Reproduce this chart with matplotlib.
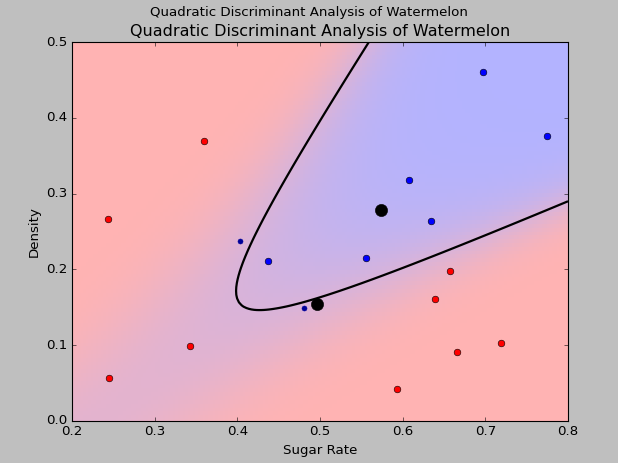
import numpy as np
import matplotlib
matplotlib.use('Agg')
import matplotlib.pyplot as plt
from matplotlib import colors

plt.style.use('classic')

# watermelon 3.0 alpha (first column plotted on x)
sugar = [0.697, 0.774, 0.634, 0.608, 0.556, 0.403, 0.481, 0.437,
         0.666, 0.243, 0.245, 0.343, 0.639, 0.657, 0.360, 0.593, 0.719]
density = [0.460, 0.376, 0.264, 0.318, 0.215, 0.237, 0.149, 0.211,
           0.091, 0.267, 0.057, 0.099, 0.161, 0.198, 0.370, 0.042, 0.103]
label = [1, 1, 1, 1, 1, 1, 1, 1, 0, 0, 0, 0, 0, 0, 0, 0, 0]

X = np.column_stack([sugar, density])
y = np.array(label)


def qda_fit(X, y):
    params = []
    for k in (0, 1):
        Xk = X[y == k]
        mu = Xk.mean(axis=0)
        cov = np.cov(Xk.T, ddof=1)
        prior = len(Xk) / float(len(X))
        params.append((mu, cov, prior))
    return params


def qda_proba(params, P):
    logs = []
    for mu, cov, prior in params:
        d = P - mu
        inv = np.linalg.inv(cov)
        m = np.einsum('ij,jk,ik->i', d, inv, d)
        logs.append(-0.5 * (m + np.log(np.linalg.det(cov))) + np.log(prior))
    logs = np.array(logs).T
    logs -= logs.max(axis=1, keepdims=True)
    p = np.exp(logs)
    return p / p.sum(axis=1, keepdims=True)


params = qda_fit(X, y)
pred = qda_proba(params, X).argmax(axis=1)

cmap = colors.LinearSegmentedColormap(
    'red_blue_classes',
    {'red': [(0, 1, 1), (1, 0.7, 0.7)],
     'green': [(0, 0.7, 0.7), (1, 0.7, 0.7)],
     'blue': [(0, 0.7, 0.7), (1, 1, 1)]})

fig = plt.figure(figsize=(618 / 80., 463 / 80.), dpi=80)
ax = fig.add_subplot(111)
fig.subplots_adjust(left=72 / 618., right=568 / 618., top=1 - 42 / 463.,
                    bottom=1 - 421 / 463.)
fig.suptitle('Quadratic Discriminant Analysis of Watermelon', y=0.988)
ax.set_title('Quadratic Discriminant Analysis of Watermelon')

x_min, x_max = 0.2, 0.8
y_min, y_max = 0.0, 0.5
xx, yy = np.meshgrid(np.linspace(x_min, x_max, 200),
                     np.linspace(y_min, y_max, 100))
Z = qda_proba(params, np.c_[xx.ravel(), yy.ravel()])[:, 1].reshape(xx.shape)
ax.pcolormesh(xx, yy, Z, cmap=cmap, norm=colors.Normalize(0., 1.),
              shading='auto')
ax.contour(xx, yy, Z, [0.5], linewidths=2., colors='k')

tp = (pred == y)
X0, X1 = X[y == 0], X[y == 1]
tp0, tp1 = tp[y == 0], tp[y == 1]
ax.plot(X0[tp0][:, 0], X0[tp0][:, 1], 'o', color='red')
ax.plot(X0[~tp0][:, 0], X0[~tp0][:, 1], '.', color='#990000', markersize=9)
ax.plot(X1[tp1][:, 0], X1[tp1][:, 1], 'o', color='blue')
ax.plot(X1[~tp1][:, 0], X1[~tp1][:, 1], '.', color='#000099', markersize=9)

for mu, cov, prior in params:
    ax.plot(mu[0], mu[1], 'o', color='black', markersize=11)

ax.set_xlim(x_min, x_max)
ax.set_ylim(y_min, y_max)
ax.set_xlabel('Sugar Rate')
ax.set_ylabel('Density')

fig.savefig('out.png', dpi=80, facecolor=fig.get_facecolor())
